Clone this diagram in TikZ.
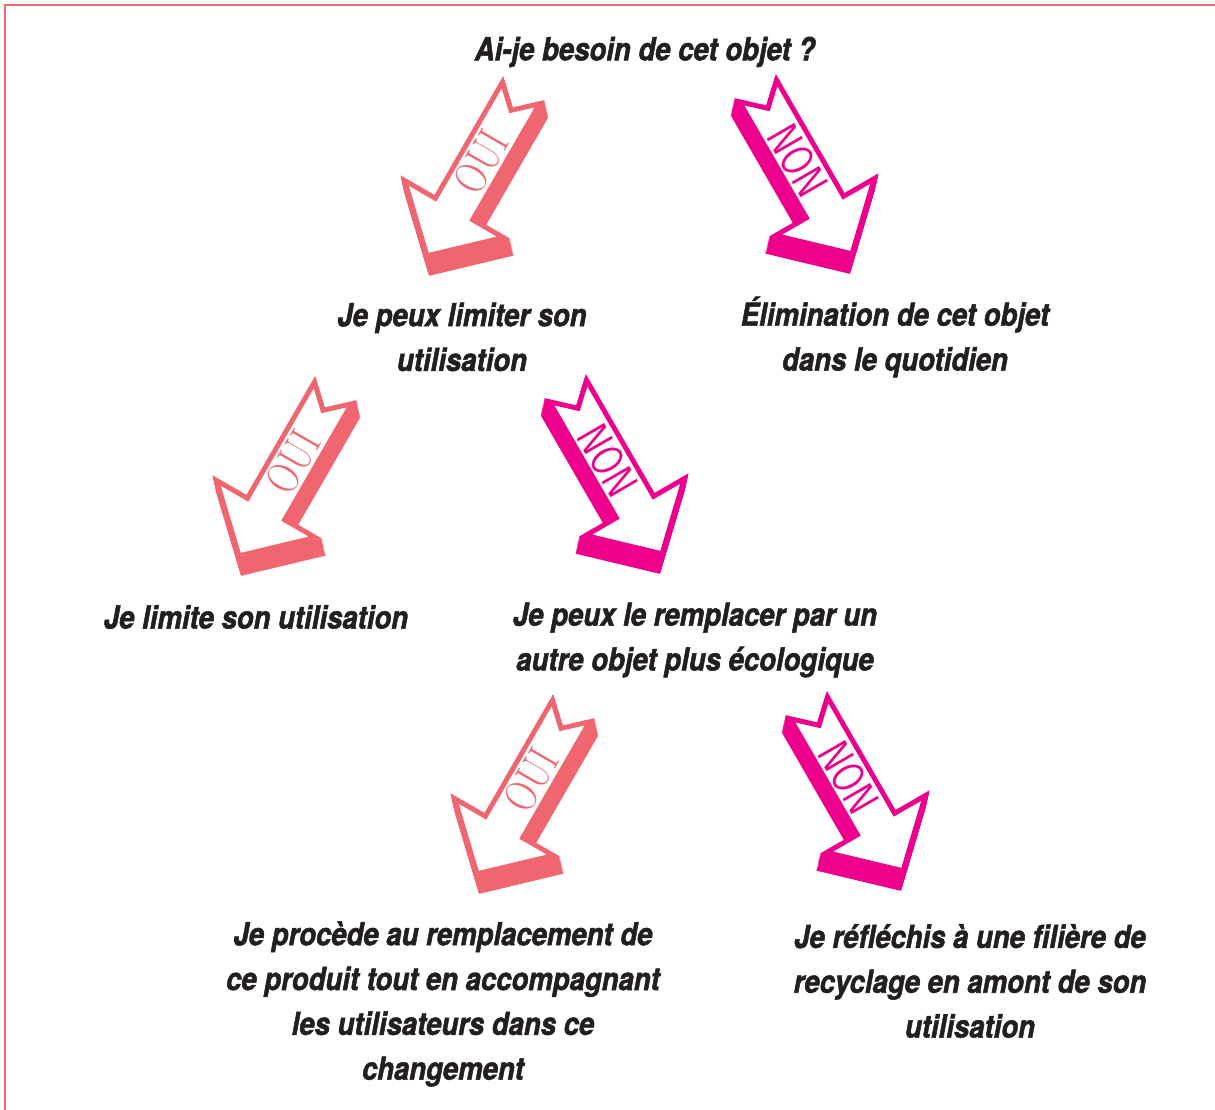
\documentclass[tikz,border=0pt]{standalone}
\usepackage{fontspec}
\usepackage{tikz}
\newfontfamily\answerfont{TeX Gyre Heros}[FakeStretch=0.87, FakeBold=1.6]
\definecolor{ouicol}{HTML}{EF6670}
\definecolor{noncol}{HTML}{EC008C}
\definecolor{inkcol}{HTML}{231F20}

\tikzset{
  answer/.style={font=\answerfont\bfseries\itshape\fontsize{18}{25.5}\selectfont, align=center, text=inkcol},
}

% block arrow, tail at the origin, pointing along +x
\newcommand{\arrowshape}{(0,21.5) -- (20,0) -- (0,-21.5) -- (134,-21.5) -- (134,-57) -- (188,0) -- (134,57) -- (134,21.5) -- cycle}

% #1 name, #2 tail, #3 angle, #4 colour, #5 shadow dx, #6 label angle, #7 label
\newcommand{\choicearrow}[7]{%
  \coordinate (#1) at #2;
  \foreach \t in {0.05,0.10,...,1.0}
    \filldraw[#4, line width=2.8pt, line join=miter, shift={(\t*#5,-\t*18)}, shift={#2}, rotate=#3] \arrowshape;
  \begin{scope}[shift={#2}, rotate=#3]
    \filldraw[fill=white, draw=#4, line width=2.8pt, line join=miter] \arrowshape;
    \node[inner sep=0pt, text=#4, rotate=#6] (#1-lbl) at (80,0) {#7};
  \end{scope}}

\newcommand{\ouiarrow}[2]{\choicearrow{#1}{#2}{240}{ouicol}{4}{60}{\scalebox{0.8}[1]{\fontsize{26}{26}\selectfont\rmfamily OUI}}}
\newcommand{\nonarrow}[2]{\choicearrow{#1}{#2}{300}{noncol}{-4}{-60}{\scalebox{0.8}[1]{\fontsize{26}{26}\selectfont\sffamily NON}}}

\begin{document}
\begin{tikzpicture}[x=0.2mm, y=0.2mm]
  \useasboundingbox (0,0) rectangle (1215,1110);
  \draw[ouicol, line width=1.2pt] (5,0) -- (5,1105) -- (1215,1105);

  \node[answer] (besoin) at (645,1058) {Ai-je besoin de cet objet ?};

  \ouiarrow{oui1}{(521,1017)}
  \nonarrow{non1}{(758,1019)}

  \node[answer] (limiter) at (462,773) {Je peux limiter son\\utilisation};
  \node[answer] (elimin) at (895,773) {Élimination de cet objet\\dans le quotidien};

  \ouiarrow{oui2}{(333,717)}
  \nonarrow{non2}{(568,719)}

  \node[answer] (limite) at (256,493) {Je limite son utilisation};
  \node[answer] (remplacer) at (695,470) {Je peux le remplacer par un\\autre objet plus écologique};

  \ouiarrow{oui3}{(571,399)}
  \nonarrow{non3}{(809,402)}

  \node[answer] (procede) at (443,106) {Je procède au remplacement de\\ce produit tout en accompagnant\\les utilisateurs dans ce\\changement};
  \node[answer] (recycl) at (970,129) {Je réfléchis à une filière de\\recyclage en amont de son\\utilisation};
\end{tikzpicture}
\end{document}
